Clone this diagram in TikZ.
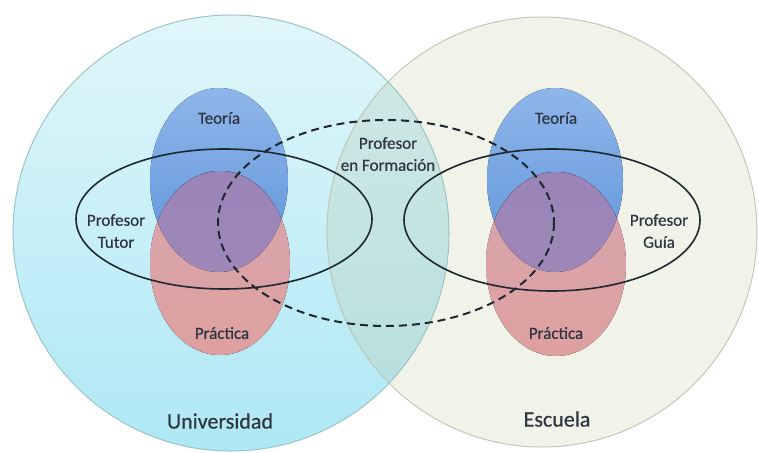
\documentclass[tikz,border=0pt]{standalone}
\usepackage{fontspec}
\setmainfont{Carlito}
\newfontfamily\semib{Carlito}[FakeBold=0.5]
\definecolor{cyanL}{HTML}{E0F6FA}
\definecolor{cyanD}{HTML}{AEE8F5}
\definecolor{cyanB}{HTML}{9EC6CA}
\definecolor{beigeF}{HTML}{F1F3E9}
\definecolor{beigeB}{HTML}{C2C8B8}
\definecolor{overlapT}{HTML}{D3E9E4}
\definecolor{overlapD}{HTML}{B3DEDF}
\definecolor{blueT}{HTML}{8FB6EA}
\definecolor{blueD}{HTML}{5D93DA}
\definecolor{pinkT}{HTML}{D7A6AE}
\definecolor{pinkD}{HTML}{DEA09F}
\definecolor{purT}{HTML}{9A84B8}
\definecolor{purD}{HTML}{A38AB8}
\definecolor{lineC}{HTML}{1E282E}
\definecolor{txt}{HTML}{2E3540}
\tikzset{
  inner/.style={font=\semib\fontsize{17}{22}\selectfont, text=txt, align=center, inner sep=0pt},
  outer/.style={font=\semib\fontsize{22}{26}\selectfont, text=txt, inner sep=0pt},
  solidring/.style={draw=lineC, line width=1.6pt},
  dashring/.style={draw=lineC, line width=2pt, dash pattern=on 8pt off 5pt},
}
\begin{document}
\begin{tikzpicture}[x=1pt,y=-1pt]
\useasboundingbox (0,0) rectangle (759,452);
% big circles
\fill[beigeF] (542,232) circle (215);
\fill[top color=cyanL, bottom color=cyanD] (231,233) circle (218);
\begin{scope}
  \clip (542,232) circle (215);
  \fill[top color=overlapT, bottom color=overlapD] (231,233) circle (218);
\end{scope}
\draw[beigeB, line width=1pt] (542,232) circle (215);
\draw[cyanB, line width=1pt] (231,233) circle (218);
% left teoria / practica
\fill[top color=blueT, bottom color=blueD] (219,180) ellipse [x radius=69, y radius=92];
\fill[top color=pinkT, bottom color=pinkD] (220,263) ellipse [x radius=70, y radius=92];
\begin{scope}
  \clip (219,180) ellipse [x radius=69, y radius=92];
  \fill[top color=purT, bottom color=purD] (220,263) ellipse [x radius=70, y radius=92];
\end{scope}
% right teoria / practica
\fill[top color=blueT, bottom color=blueD] (555,180) ellipse [x radius=68, y radius=92];
\fill[top color=pinkT, bottom color=pinkD] (556,264) ellipse [x radius=70, y radius=92];
\begin{scope}
  \clip (555,180) ellipse [x radius=68, y radius=92];
  \fill[top color=purT, bottom color=purD] (556,264) ellipse [x radius=70, y radius=92];
\end{scope}
% rings
\draw[solidring] (224,219) ellipse [x radius=148, y radius=70];
\draw[solidring] (552,220) ellipse [x radius=148, y radius=71];
\draw[dashring] (386,223) ellipse [x radius=168, y radius=103];
% labels
\node[inner] (teoL) at (219,118) {Teoría};
\node[inner] (praL) at (222,333) {Práctica};
\node[inner] (teoR) at (556,118) {Teoría};
\node[inner] (praR) at (556,333) {Práctica};
\node[inner] (tutor) at (116,231) {Profesor\\Tutor};
\node[inner] (guia) at (659,231) {Profesor\\Guía};
\node[inner] (form) at (388,154) {Profesor\\en Formación};
\node[outer] (uni) at (220,421) {Universidad};
\node[outer] (esc) at (557,419) {Escuela};
\end{tikzpicture}
\end{document}
